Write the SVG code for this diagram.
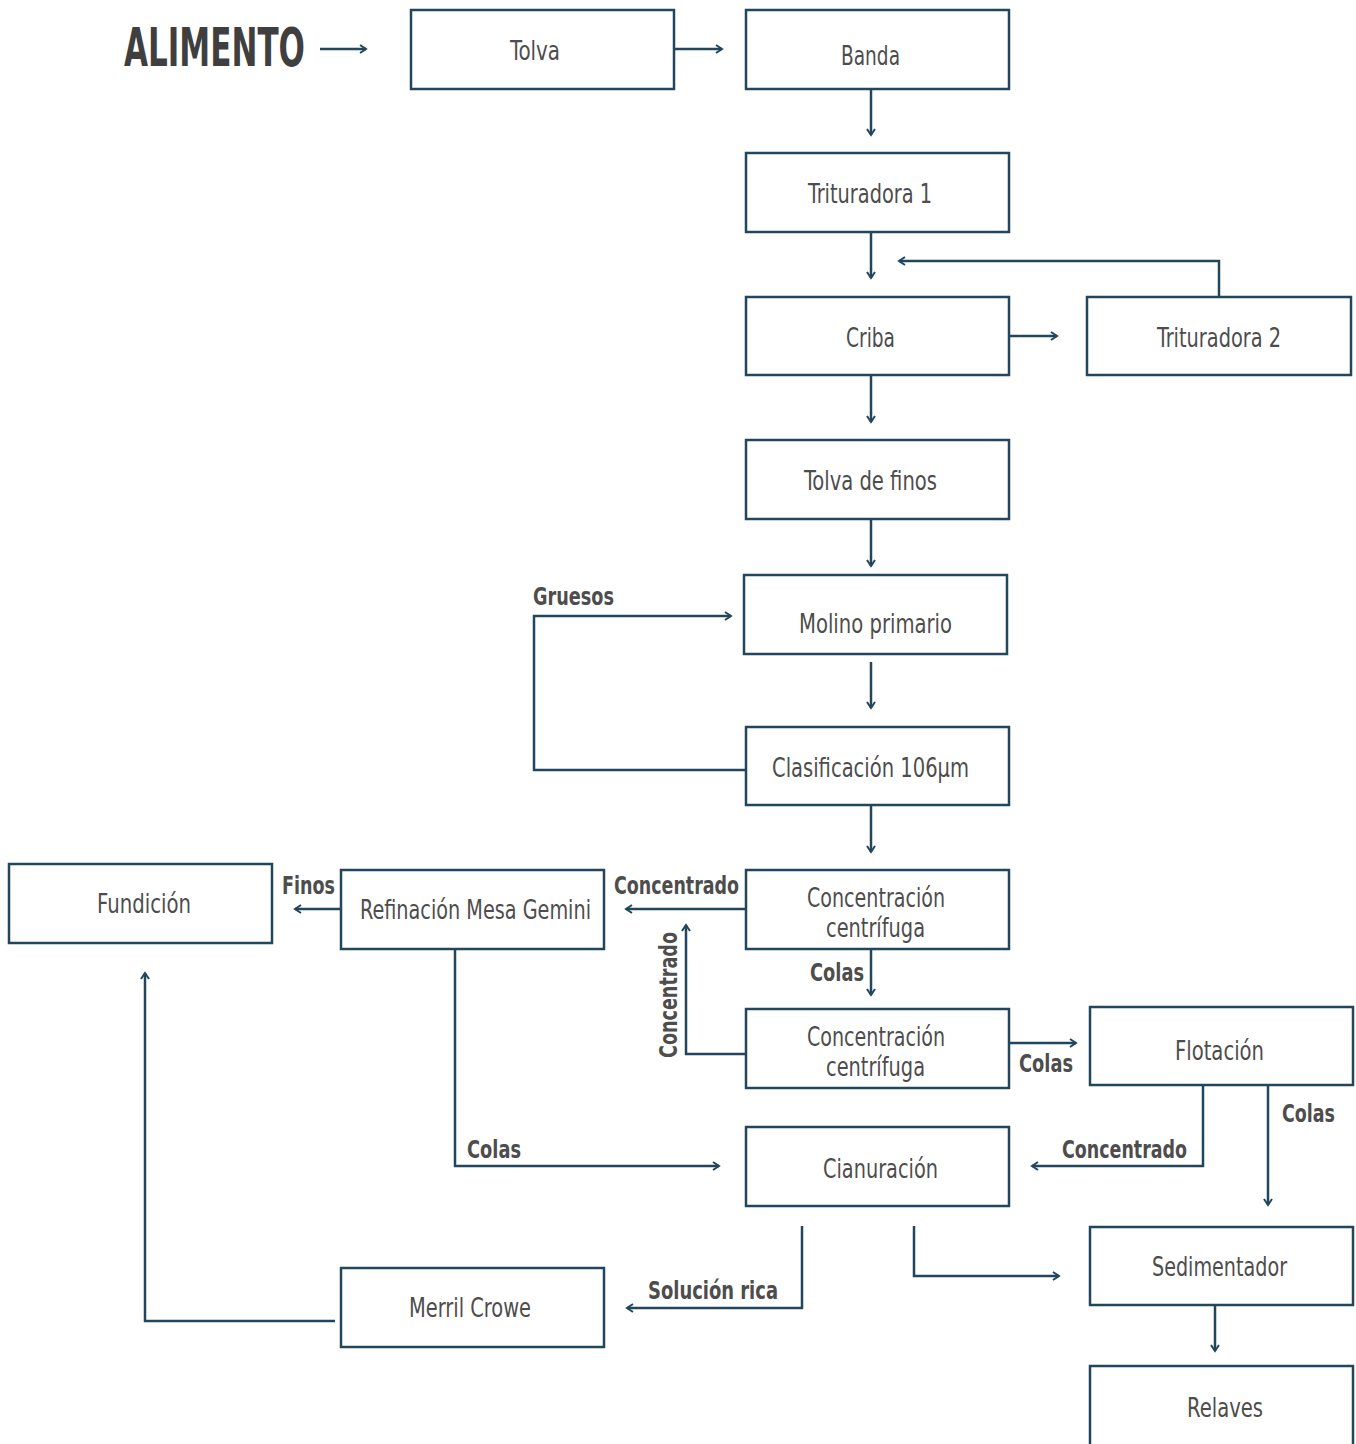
<svg xmlns="http://www.w3.org/2000/svg" width="1356" height="1444" viewBox="0 0 1356 1444">
<style>
.box{fill:#fff;stroke:#22465c;stroke-width:2.5}
.t{font-family:"DejaVu Sans Condensed","Liberation Sans Narrow","Liberation Sans",sans-serif;font-size:26px;fill:#4d4d4d;text-anchor:middle}
.l{font-family:"DejaVu Sans Condensed","Liberation Sans Narrow","Liberation Sans",sans-serif;font-size:25px;font-weight:bold;fill:#4d4d4d;text-anchor:middle}
.c{fill:none;stroke:#22465c;stroke-width:2.5;marker-end:url(#a)}
</style>
<defs>
<marker id="a" viewBox="0 0 10 10" refX="8" refY="5" markerWidth="4" markerHeight="4" orient="auto" markerUnits="strokeWidth">
<polyline points="2,1 8,5 2,9" fill="none" stroke="#22465c" stroke-width="2"/>
</marker>
</defs>
<rect width="1356" height="1444" fill="#fff"/>
<g id="connectors">
<path class="c" d="M320,49H366"/>
<path class="c" d="M674,49H722"/>
<path class="c" d="M871,89V135"/>
<path class="c" d="M871,232V278"/>
<path class="c" d="M1219,297V261H899"/>
<path class="c" d="M1009,336H1057"/>
<path class="c" d="M871,375V422"/>
<path class="c" d="M871,519V566"/>
<path class="c" d="M871,662V708"/>
<path class="c" d="M746,770H534V616H731"/>
<path class="c" d="M871,805V852"/>
<path class="c" d="M746,909H626"/>
<path class="c" d="M871,949V995"/>
<path class="c" d="M746,1054H686V925"/>
<path class="c" d="M1009,1043H1076"/>
<path class="c" d="M1203,1085V1166H1032"/>
<path class="c" d="M1268,1085V1205"/>
<path class="c" d="M341,909H295"/>
<path class="c" d="M455,949V1166H719"/>
<path class="c" d="M802,1226V1308H627"/>
<path class="c" d="M914,1226V1276H1059"/>
<path class="c" d="M1215,1305V1351"/>
<path class="c" d="M335,1321H145V973"/>
<text class="l" x="573.5" y="605" textLength="81" lengthAdjust="spacingAndGlyphs">Gruesos</text>
<text class="l" x="676.5" y="894" textLength="125" lengthAdjust="spacingAndGlyphs">Concentrado</text>
<text class="l" x="308.5" y="894" textLength="53" lengthAdjust="spacingAndGlyphs">Finos</text>
<text class="l" x="837" y="981" textLength="54" lengthAdjust="spacingAndGlyphs">Colas</text>
<text class="l" transform="translate(677,995) rotate(-90)" textLength="126" lengthAdjust="spacingAndGlyphs">Concentrado</text>
<text class="l" x="1046" y="1072" textLength="54" lengthAdjust="spacingAndGlyphs">Colas</text>
<text class="l" x="1308.5" y="1122" textLength="53" lengthAdjust="spacingAndGlyphs">Colas</text>
<text class="l" x="1124.5" y="1158" textLength="125" lengthAdjust="spacingAndGlyphs">Concentrado</text>
<text class="l" x="494" y="1158" textLength="54" lengthAdjust="spacingAndGlyphs">Colas</text>
<text class="l" x="713" y="1299" textLength="130" lengthAdjust="spacingAndGlyphs">Solución rica</text>
</g>
<g id="alimento"><text x="124" y="66" font-family="DejaVu Sans Condensed,sans-serif" font-size="54" font-weight="bold" fill="#3f3f3f" textLength="181" lengthAdjust="spacingAndGlyphs">ALIMENTO</text></g>
<g id="tolva"><rect class="box" x="411" y="10" width="263" height="79"/><text class="t" x="535" y="60" textLength="50" lengthAdjust="spacingAndGlyphs">Tolva</text></g>
<g id="banda"><rect class="box" x="746" y="10" width="263" height="79"/><text class="t" x="870.5" y="65" textLength="59" lengthAdjust="spacingAndGlyphs">Banda</text></g>
<g id="trituradora1"><rect class="box" x="746" y="153" width="263" height="79"/><text class="t" x="870" y="203" textLength="124" lengthAdjust="spacingAndGlyphs">Trituradora 1</text></g>
<g id="criba"><rect class="box" x="746" y="297" width="263" height="78"/><text class="t" x="870.5" y="347" textLength="49" lengthAdjust="spacingAndGlyphs">Criba</text></g>
<g id="trituradora2"><rect class="box" x="1087" y="297" width="264" height="78"/><text class="t" x="1219" y="347" textLength="124" lengthAdjust="spacingAndGlyphs">Trituradora 2</text></g>
<g id="tolvafinos"><rect class="box" x="746" y="440" width="263" height="79"/><text class="t" x="870.5" y="490" textLength="133" lengthAdjust="spacingAndGlyphs">Tolva de finos</text></g>
<g id="molino"><rect class="box" x="744" y="575" width="263" height="79"/><text class="t" x="875.5" y="633" textLength="153" lengthAdjust="spacingAndGlyphs">Molino primario</text></g>
<g id="clasificacion"><rect class="box" x="746" y="727" width="263" height="78"/><text class="t" x="870.5" y="777" textLength="197" lengthAdjust="spacingAndGlyphs">Clasificación 106µm</text></g>
<g id="concentracion1"><rect class="box" x="746" y="870" width="263" height="79"/><text class="t" x="876" y="907" textLength="138" lengthAdjust="spacingAndGlyphs">Concentración</text><text class="t" x="875.5" y="937" textLength="99" lengthAdjust="spacingAndGlyphs">centrífuga</text></g>
<g id="concentracion2"><rect class="box" x="746" y="1009" width="263" height="79"/><text class="t" x="876" y="1046" textLength="138" lengthAdjust="spacingAndGlyphs">Concentración</text><text class="t" x="875.5" y="1076" textLength="99" lengthAdjust="spacingAndGlyphs">centrífuga</text></g>
<g id="flotacion"><rect class="box" x="1090" y="1007" width="263" height="78"/><text class="t" x="1219.5" y="1060" textLength="89" lengthAdjust="spacingAndGlyphs">Flotación</text></g>
<g id="cianuracion"><rect class="box" x="746" y="1127" width="263" height="79"/><text class="t" x="880.5" y="1178" textLength="115" lengthAdjust="spacingAndGlyphs">Cianuración</text></g>
<g id="sedimentador"><rect class="box" x="1090" y="1227" width="263" height="78"/><text class="t" x="1219.5" y="1276" textLength="135" lengthAdjust="spacingAndGlyphs">Sedimentador</text></g>
<g id="relaves"><rect class="box" x="1090" y="1366" width="263" height="82"/><text class="t" x="1225" y="1417" textLength="76" lengthAdjust="spacingAndGlyphs">Relaves</text></g>
<g id="fundicion"><rect class="box" x="9" y="864" width="263" height="79"/><text class="t" x="144" y="913" textLength="94" lengthAdjust="spacingAndGlyphs">Fundición</text></g>
<g id="refinacion"><rect class="box" x="341" y="870" width="263" height="79"/><text class="t" x="475.5" y="919" textLength="231" lengthAdjust="spacingAndGlyphs">Refinación Mesa Gemini</text></g>
<g id="merrilcrowe"><rect class="box" x="341" y="1268" width="263" height="79"/><text class="t" x="470" y="1317" textLength="122" lengthAdjust="spacingAndGlyphs">Merril Crowe</text></g>
</svg>
